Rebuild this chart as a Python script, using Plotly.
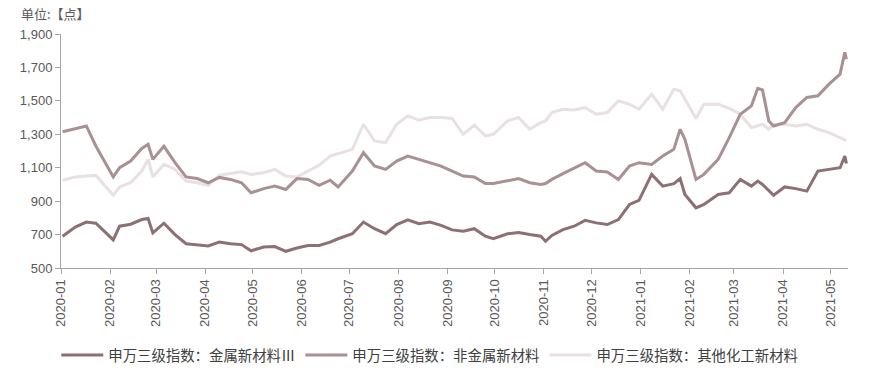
import plotly.graph_objects as go

dates = [
    "2020-01-02", "2020-01-10", "2020-01-17", "2020-01-23",
    "2020-02-03", "2020-02-07", "2020-02-14", "2020-02-21", "2020-02-25", "2020-02-28",
    "2020-03-06", "2020-03-13", "2020-03-20", "2020-03-27",
    "2020-04-03", "2020-04-10", "2020-04-17", "2020-04-24", "2020-04-30",
    "2020-05-08", "2020-05-15", "2020-05-22", "2020-05-29",
    "2020-06-05", "2020-06-12", "2020-06-19", "2020-06-24",
    "2020-07-03", "2020-07-10", "2020-07-17", "2020-07-24", "2020-07-31",
    "2020-08-07", "2020-08-14", "2020-08-21", "2020-08-28",
    "2020-09-04", "2020-09-11", "2020-09-18", "2020-09-25", "2020-09-30",
    "2020-10-09", "2020-10-16", "2020-10-23", "2020-10-30",
    "2020-11-02", "2020-11-06", "2020-11-13", "2020-11-20", "2020-11-27",
    "2020-12-04", "2020-12-11", "2020-12-18", "2020-12-25", "2020-12-31",
    "2021-01-08", "2021-01-15", "2021-01-22", "2021-01-26", "2021-01-29",
    "2021-02-05", "2021-02-10", "2021-02-19", "2021-02-26",
    "2021-03-05", "2021-03-12", "2021-03-16", "2021-03-19", "2021-03-23", "2021-03-26",
    "2021-04-02", "2021-04-09", "2021-04-16", "2021-04-23", "2021-04-30",
    "2021-05-07", "2021-05-10", "2021-05-11",
]

metal = [
    690, 745, 775, 768,
    668, 750, 762, 790, 797, 710,
    768, 700, 645, 638,
    632, 655, 645, 640, 603,
    625, 628, 600, 620,
    635, 635, 655, 675,
    705, 775, 735, 705, 760,
    788, 765, 775, 755,
    728, 720, 735, 690, 675,
    705, 712, 700, 690,
    660, 695, 730, 750, 785,
    770, 760, 790, 880, 905,
    1060, 990, 1005, 1035, 940,
    860, 880, 940, 950,
    1030, 990, 1020, 1000, 960, 935,
    985, 975, 960, 1080, 1090,
    1100, 1170, 1125,
]

nonmetal = [
    1315, 1335, 1350, 1230,
    1045, 1100, 1140, 1215, 1240, 1150,
    1228, 1130, 1045, 1035,
    1010, 1042, 1030, 1010, 950,
    975, 990, 970, 1035,
    1030, 995, 1025, 985,
    1080, 1190, 1110, 1090, 1140,
    1170, 1150, 1130, 1110,
    1080, 1050, 1045, 1005, 1005,
    1020, 1035, 1010, 1000,
    1005, 1030, 1065, 1100, 1130,
    1080, 1075, 1030, 1110, 1130,
    1120, 1170, 1210, 1330, 1270,
    1030, 1060, 1150, 1280,
    1420, 1470, 1575, 1565, 1380, 1350,
    1370, 1460, 1520, 1530, 1600,
    1660, 1790, 1750,
]

other = [
    1025, 1045, 1050, 1055,
    935, 985, 1010, 1080, 1150, 1045,
    1120, 1090, 1020, 1010,
    995, 1055, 1065, 1075, 1060,
    1070, 1090, 1050, 1045,
    1080, 1115, 1170, 1185,
    1210, 1360, 1260, 1250, 1360,
    1410, 1385, 1400, 1400,
    1395, 1300, 1355, 1290, 1300,
    1380, 1400, 1330, 1370,
    1380, 1430, 1450, 1445, 1460,
    1420, 1430, 1500, 1480, 1450,
    1540, 1450, 1570, 1560, 1510,
    1395, 1480, 1480, 1455,
    1420, 1340, 1350, 1360, 1330, 1360,
    1360, 1350, 1360, 1330, 1310,
    1280, 1265, 1262,
]

names = ["申万三级指数：金属新材料Ⅲ", "申万三级指数：非金属新材料", "申万三级指数：其他化工新材料"]
colors = ["#8C7073", "#A99093", "#E9E0E1"]
series = [metal, nonmetal, other]

fig = go.Figure()
# draw light line first so darker lines sit on top, keep legend order
for i in [2, 1, 0]:
    fig.add_trace(go.Scatter(
        x=dates, y=series[i], name=names[i], mode="lines",
        line=dict(color=colors[i], width=3), legendrank=i + 1,
    ))

font_family = "Liberation Sans, Arial, Noto Sans CJK SC, sans-serif"
fig.update_layout(
    width=880, height=374,
    margin=dict(l=61, r=32, t=34, b=106, autoexpand=False),
    paper_bgcolor="white", plot_bgcolor="white",
    font=dict(family=font_family, size=13, color="#595959"),
    showlegend=True,
    legend=dict(
        orientation="h", x=-0.006, xanchor="left", y=-0.372, yanchor="middle",
        font=dict(family="Noto Sans CJK SC, sans-serif", size=14.4, color="#404040"),
        traceorder="normal", itemwidth=42,
    ),
    xaxis=dict(
        type="date", range=["2020-01-01", "2021-05-12"], automargin=False,
        dtick="M1", tick0="2020-01-01", tickformat="%Y-%m", tickangle=-90,
        showgrid=False, zeroline=False,
        showline=True, linecolor="#A6A6A6", linewidth=1,
        ticks="outside", ticklen=5, tickcolor="#A6A6A6",
        tickfont=dict(size=13, color="#595959"),
    ),
    yaxis=dict(
        range=[500, 1900], dtick=200, tick0=500, tickformat=",", automargin=False,
        showgrid=False, zeroline=False,
        showline=True, linecolor="#A6A6A6", linewidth=1,
        ticks="outside", ticklen=5, tickcolor="#A6A6A6",
        tickfont=dict(size=13, color="#595959"),
    ),
    annotations=[dict(
        text="单位:【点】", xref="paper", yref="paper", x=-0.053, y=1.04,
        xanchor="left", yanchor="bottom", showarrow=False,
        font=dict(family="Noto Sans CJK SC, sans-serif", size=13, color="#595959"),
    )],
)

fig.write_html("out.html", config={"displayModeBar": False},
               post_script="document.body.style.margin='0';")
